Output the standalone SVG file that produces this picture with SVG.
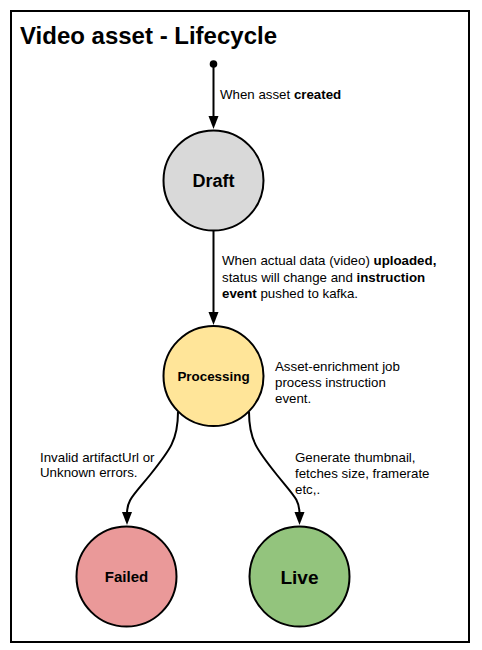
<svg xmlns="http://www.w3.org/2000/svg" width="482" height="650" viewBox="0 0 482 650">
<style>
text{font-family:"Liberation Sans",Arial,sans-serif;fill:#000}
.lbl{font-size:13.3px}
.b{font-weight:bold}
.node{stroke:#000;stroke-width:2}
.nt{font-weight:bold;text-anchor:middle}
.edge{fill:none;stroke:#000;stroke-width:2}
</style>
<rect x="11" y="11" width="458" height="631" fill="#fff" stroke="#000" stroke-width="2"/>
<text x="20" y="44" font-size="24" class="b">Video asset - Lifecycle</text>
<g id="connectors">
<circle cx="213.5" cy="64" r="3.8" fill="#000"/>
<path class="edge" d="M213.5,66 V118" />
<path d="M208.5,116 L218.5,116 L213.5,129 Z" fill="#000"/>
<path class="edge" d="M213.5,231 V314"/>
<path d="M208.5,312 L218.5,312 L213.5,325 Z" fill="#000"/>
<path class="edge" d="M178,412 C178,440 170,450 150,475 C132,497 127,500 127,514"/>
<path d="M122,512 L132,512 L127,525 Z" fill="#000"/>
<path class="edge" d="M249,412 C249,440 257,450 277,475 C295,497 299.5,500 299.5,514"/>
<path d="M294.5,512 L304.5,512 L299.5,525 Z" fill="#000"/>
</g>
<g id="label-created"><text class="lbl" x="220" y="99">When asset <tspan class="b">created</tspan></text></g>
<g id="label-uploaded">
<text class="lbl" x="222" y="265">When actual data (video) <tspan class="b">uploaded,</tspan></text>
<text class="lbl" x="222" y="282">status will change and <tspan class="b">instruction</tspan></text>
<text class="lbl" x="222" y="298"><tspan class="b">event</tspan> pushed to kafka.</text>
</g>
<g id="label-processing">
<text class="lbl" x="275" y="371">Asset-enrichment job</text>
<text class="lbl" x="275" y="387">process instruction</text>
<text class="lbl" x="275" y="403">event.</text>
</g>
<g id="label-failed">
<text class="lbl" x="40" y="462">Invalid artifactUrl or</text>
<text class="lbl" x="40" y="477">Unknown errors.</text>
</g>
<g id="label-live">
<text class="lbl" x="295" y="462">Generate thumbnail,</text>
<text class="lbl" x="295" y="478">fetches size, framerate</text>
<text class="lbl" x="295" y="494">etc,.</text>
</g>
<g id="draft">
<circle class="node" cx="213.5" cy="180.5" r="50" fill="#d9d9d9"/>
<text class="nt" x="213.5" y="187" font-size="18">Draft</text>
</g>
<g id="processing">
<circle class="node" cx="213.5" cy="376" r="50" fill="#ffe599"/>
<text class="nt" x="213.5" y="381" font-size="13.4">Processing</text>
</g>
<g id="failed">
<circle class="node" cx="126.5" cy="576.5" r="50" fill="#ea9999"/>
<text class="nt" x="126.5" y="582" font-size="15">Failed</text>
</g>
<g id="live">
<circle class="node" cx="299.5" cy="576.5" r="50" fill="#93c47d"/>
<text class="nt" x="299.5" y="583.5" font-size="19">Live</text>
</g>
</svg>
